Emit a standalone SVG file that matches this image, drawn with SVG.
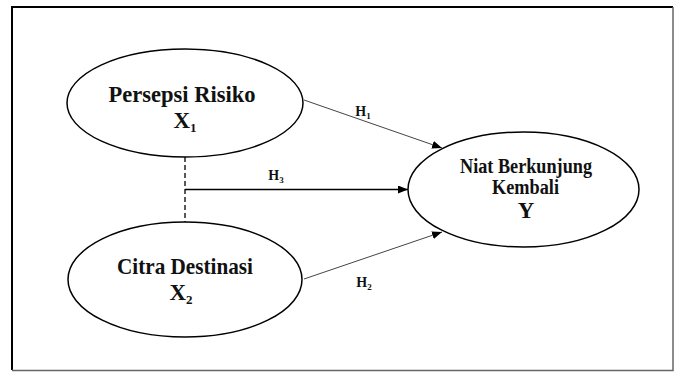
<svg xmlns="http://www.w3.org/2000/svg" width="681" height="372" viewBox="0 0 681 372">
  <defs>
    <marker id="arrow" markerWidth="10" markerHeight="8" refX="10" refY="4" orient="auto" markerUnits="userSpaceOnUse">
      <path d="M0,0 L10,4 L0,8 Z" fill="#000"/>
    </marker>
    <style>
      .node { fill: #fff; stroke: #000; stroke-width: 1.5; }
      .lbl { font-family: "Liberation Serif", "Times New Roman", serif; font-weight: bold; fill: #111; text-anchor: middle; }
      .big { font-size: 23px; }
      .mid { font-size: 20px; }
      .sub { font-size: 13px; }
      .h { font-size: 14px; }
      .hsub { font-size: 9px; }
      .path { fill: none; stroke: #444; stroke-width: 1; }
      .main { fill: none; stroke: #000; stroke-width: 1.3; }
      .corr { fill: none; stroke: #000; stroke-width: 1.3; stroke-dasharray: 5 3; }
    </style>
  </defs>

  <rect width="681" height="372" fill="#fff"/>
  <!-- frame -->
  <path d="M12,370 L12,7 L673,7" fill="none" stroke="#000" stroke-width="2"/>
  <path d="M12,370.5 L673,370.5 L673,7" fill="none" stroke="#666" stroke-width="1.5"/>

  <g id="connectors">
    <line class="corr" x1="185" y1="157" x2="185" y2="222"/>
    <line class="main" x1="185" y1="189.5" x2="408" y2="189.5" marker-end="url(#arrow)"/>
    <line class="path" x1="304" y1="100" x2="442" y2="148" marker-end="url(#arrow)"/>
    <line class="path" x1="304" y1="279" x2="442" y2="232" marker-end="url(#arrow)"/>
    <text class="lbl h" x="363" y="116">H<tspan class="hsub" dy="3">1</tspan></text>
    <text class="lbl h" x="364" y="287">H<tspan class="hsub" dy="3">2</tspan></text>
    <text class="lbl h" x="276" y="180">H<tspan class="hsub" dy="3">3</tspan></text>
  </g>

  <g id="persepsi-risiko">
    <ellipse class="node" cx="185" cy="103" rx="118" ry="54"/>
    <text class="lbl big" x="182" y="102" textLength="147" lengthAdjust="spacingAndGlyphs">Persepsi Risiko</text>
    <text class="lbl big" x="185" y="128">X<tspan class="sub" dy="4">1</tspan></text>
  </g>

  <g id="citra-destinasi">
    <ellipse class="node" cx="185" cy="279.5" rx="117" ry="57.5"/>
    <text class="lbl big" x="185" y="274" textLength="136" lengthAdjust="spacingAndGlyphs">Citra Destinasi</text>
    <text class="lbl big" x="181" y="300">X<tspan class="sub" dy="4">2</tspan></text>
  </g>

  <g id="niat-berkunjung-kembali">
    <ellipse class="node" cx="523.5" cy="189.5" rx="115.5" ry="57.5"/>
    <text class="lbl mid" x="526" y="173" textLength="132" lengthAdjust="spacingAndGlyphs">Niat Berkunjung</text>
    <text class="lbl mid" x="525.5" y="194" textLength="67" lengthAdjust="spacingAndGlyphs">Kembali</text>
    <text class="lbl big" x="526" y="218">Y</text>
  </g>
</svg>
